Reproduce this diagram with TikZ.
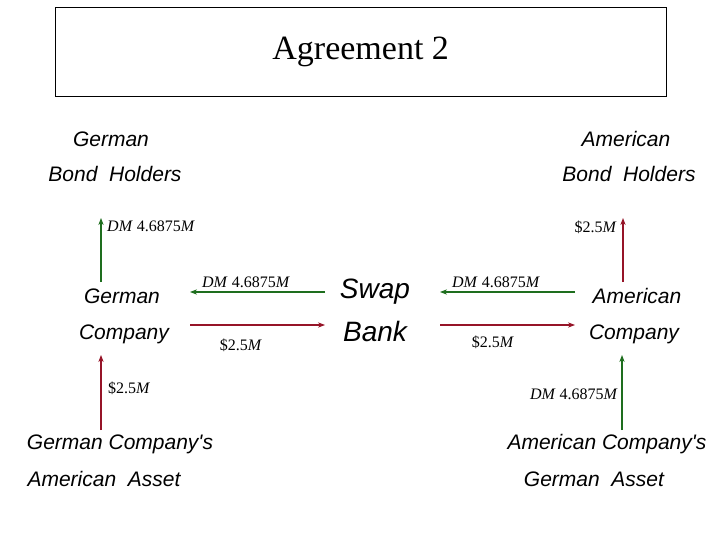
\documentclass[tikz,border=0pt]{standalone}
\usepackage{fontspec}
\setmainfont{Liberation Serif}
\newfontfamily\lab{Liberation Sans}
\usetikzlibrary{arrows.meta}
\definecolor{gr}{RGB}{30,110,30}
\definecolor{rd}{RGB}{150,20,40}
\begin{document}
\begin{tikzpicture}[x=1pt,y=-1pt,
  big/.style={font=\lab\itshape\fontsize{21}{24}\selectfont,inner sep=0pt},
  mid/.style={font=\lab\itshape\fontsize{28}{30}\selectfont,inner sep=0pt},
  sm/.style={font=\fontsize{16}{18}\selectfont,inner sep=0pt},
  ga/.style={draw=gr,line width=1.2pt,-{Stealth[length=7pt]}},
  ra/.style={draw=rd,line width=1.2pt,-{Stealth[length=7pt]}}]
\useasboundingbox (0,0) rectangle (720,540);
\node[draw,minimum width=611,minimum height=89,anchor=north west,font=\fontsize{34}{40}\selectfont] (title) at (55,7) {Agreement 2};
\node[big] (gb1) at (111,139) {German};
\node[big] (gb2) at (115,174) {Bond\ \ Holders};
\node[big] (ab1) at (626,139) {American};
\node[big] (ab2) at (629,174) {Bond\ \ Holders};
\node[big] (gc1) at (122,296) {German};
\node[big] (gc2) at (124,334) {Company};
\node[mid] (sb1) at (375,292) {Swap};
\node[mid] (sb2) at (375,331) {Bank};
\node[big] (ac1) at (637,296) {American};
\node[big] (ac2) at (634,334) {Company};
\node[big] (ga1) at (120,444) {German Company's};
\node[big] (ga2) at (104,479) {American\ \ Asset};
\node[big] (aa1) at (607,444) {American Company's};
\node[big] (aa2) at (594,479) {German\ \ Asset};
\coordinate (p1) at (101,282); \coordinate (p2) at (101,218);
\draw[ga] (p1) -- (p2);
\node[sm,anchor=west] (l1) at (107,226) {\textit{DM} 4.6875\textit{M}};
\coordinate (p3) at (623,282); \coordinate (p4) at (623,218);
\draw[ra] (p3) -- (p4);
\node[sm,anchor=east] (l2) at (617,227) {\$2.5\textit{M}};
\coordinate (m1) at (325,292); \coordinate (m2) at (190,292);
\draw[ga] (m1) -- (m2);
\node[sm] (l3) at (246,282) {\textit{DM} 4.6875\textit{M}};
\coordinate (m3) at (190,325); \coordinate (m4) at (325,325);
\draw[ra] (m3) -- (m4);
\node[sm] (l4) at (241,345) {\$2.5\textit{M}};
\coordinate (m5) at (575,292); \coordinate (m6) at (440,292);
\draw[ga] (m5) -- (m6);
\node[sm] (l5) at (496,282) {\textit{DM} 4.6875\textit{M}};
\coordinate (m7) at (440,325); \coordinate (m8) at (575,325);
\draw[ra] (m7) -- (m8);
\node[sm] (l6) at (493,342) {\$2.5\textit{M}};
\coordinate (b1) at (101,430); \coordinate (b2) at (101,355);
\draw[ra] (b1) -- (b2);
\node[sm,anchor=west] (l7) at (108,388) {\$2.5\textit{M}};
\coordinate (b3) at (622,430); \coordinate (b4) at (622,355);
\draw[ga] (b3) -- (b4);
\node[sm,anchor=east] (l8) at (618,394) {\textit{DM} 4.6875\textit{M}};
\end{tikzpicture}
\end{document}
